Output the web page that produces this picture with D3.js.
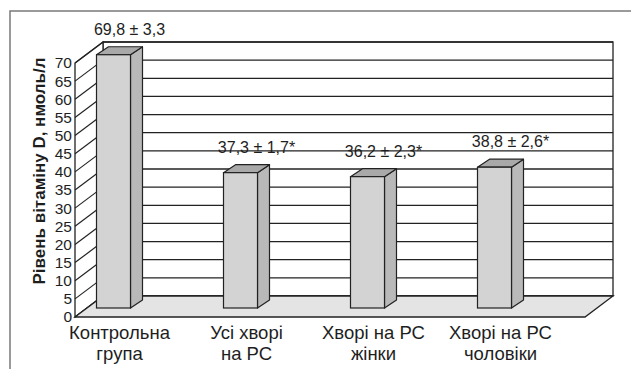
<!DOCTYPE html>
<html>
<head>
<meta charset="utf-8">
<script src="https://cdn.jsdelivr.net/npm/d3@7/dist/d3.min.js"></script>
<style>
  html, body { margin: 0; padding: 0; background: #fff; }
  svg { display: block; font-family: "Liberation Sans", Arial, sans-serif; }
</style>
</head>
<body>
<svg id="chart" width="631" height="369"></svg>
<script>
// ---- data ----
const categories = [
  ["Контрольна", "група"],
  ["Усі хворі", "на РС"],
  ["Хворі на РС", "жінки"],
  ["Хворі на РС", "чоловіки"]
];
const values = [69.8, 37.3, 36.2, 38.8];
const valueLabels = ["69,8 ± 3,3", "37,3 ± 1,7*", "36,2 ± 2,3*", "38,8 ± 2,6*"];
const yTicks = [0, 5, 10, 15, 20, 25, 30, 35, 40, 45, 50, 55, 60, 65, 70];
const yTitle = "Рівень вітаміну D, нмоль/л";

// ---- layout ----
const svg = d3.select("#chart");
const catKeys = categories.map(c => c.join(" "));
const y = d3.scaleLinear().domain([0, 70]).range([317, 63]);
const x = d3.scaleBand().domain(catKeys).range([56, 564]);
const frontLeft = 75, frontRight = 585;
const depth = { dx: 28, dy: -21 };       // wall depth
const barShift = { dx: 0, dy: -9 };      // bar front face offset from front plane (vertical)
const barDepth = { dx: 12, dy: -8 };
const barW = 34;
const lineCol = "#222";

// outer frame (open to right/bottom)
svg.append("rect").attr("x", 10).attr("y", 11).attr("width", 700).attr("height", 500)
  .attr("fill", "none").attr("stroke", "#7a7a7a").attr("stroke-width", 1.5);

// back wall
const bx0 = frontLeft + depth.dx, bx1 = frontRight + depth.dx;
svg.append("rect").attr("x", bx0).attr("y", y(70) + depth.dy)
  .attr("width", bx1 - bx0).attr("height", y(0) - y(70))
  .attr("fill", "#fff").attr("stroke", lineCol).attr("stroke-width", 1.3);

// back wall gridlines
svg.append("g").selectAll("line").data(yTicks).join("line")
  .attr("x1", bx0).attr("x2", bx1)
  .attr("y1", d => y(d) + depth.dy).attr("y2", d => y(d) + depth.dy)
  .attr("stroke", lineCol).attr("stroke-width", 1.3);

// left side wall
svg.append("polygon")
  .attr("points", [[frontLeft, y(0)], [frontLeft, y(70)], [bx0, y(70) + depth.dy], [bx0, y(0) + depth.dy]].map(p => p.join(",")).join(" "))
  .attr("fill", "#fff").attr("stroke", lineCol).attr("stroke-width", 1.3);
svg.append("g").selectAll("line").data(yTicks).join("line")
  .attr("x1", frontLeft).attr("x2", bx0)
  .attr("y1", d => y(d)).attr("y2", d => y(d) + depth.dy)
  .attr("stroke", lineCol).attr("stroke-width", 1.2);

// floor
svg.append("polygon")
  .attr("points", [[frontLeft, y(0)], [frontRight, y(0)], [bx1, y(0) + depth.dy], [bx0, y(0) + depth.dy]].map(p => p.join(",")).join(" "))
  .attr("fill", "#e4e4e4").attr("stroke", lineCol).attr("stroke-width", 1.3);

// bars
const bars = svg.append("g").selectAll("g").data(values.map((v, i) => ({ v, key: catKeys[i], label: valueLabels[i] }))).join("g");
bars.each(function (d, i) {
  const g = d3.select(this);
  const c = x(d.key) + x.bandwidth() / 2;
  const l = c - (barW + barDepth.dx) / 2;
  const r = l + barW;
  const top = y(d.v) + barShift.dy;
  const bot = y(0) + barShift.dy;
  // side
  g.append("polygon")
    .attr("points", [[r, bot], [r, top], [r + barDepth.dx, top + barDepth.dy], [r + barDepth.dx, bot + barDepth.dy]].map(p => p.join(",")).join(" "))
    .attr("fill", "#b9b9b9").attr("stroke", lineCol).attr("stroke-width", 1.2).attr("stroke-linejoin", "round");
  // top
  g.append("polygon")
    .attr("points", [[l, top], [r, top], [r + barDepth.dx, top + barDepth.dy], [l + barDepth.dx, top + barDepth.dy]].map(p => p.join(",")).join(" "))
    .attr("fill", "#a9a9a9").attr("stroke", lineCol).attr("stroke-width", 1.2).attr("stroke-linejoin", "round");
  // front
  g.append("rect").attr("x", l).attr("y", top).attr("width", barW).attr("height", bot - top)
    .attr("fill", "#d3d3d3").attr("stroke", lineCol).attr("stroke-width", 1.2);
  // value label
  g.append("text").attr("x", c + 10).attr("y", top + barDepth.dy - 12)
    .attr("text-anchor", "middle").attr("font-size", 16).attr("fill", "#1e1e1e").text(d.label);
});

// y axis tick labels
const axis = d3.axisLeft(y).tickValues(yTicks).tickSize(0).tickPadding(3).tickFormat(d3.format("d"));
const ax = svg.append("g").attr("transform", `translate(${frontLeft},0)`).call(axis);
ax.select(".domain").remove();
ax.selectAll("text").attr("font-size", 15.5).attr("fill", "#1e1e1e").attr("font-family", "Liberation Sans, Arial, sans-serif");

// y title
svg.append("text").attr("transform", "translate(45,171) rotate(-90)")
  .attr("text-anchor", "middle").attr("font-size", 17).attr("font-weight", "bold").attr("fill", "#1e1e1e")
  .text(yTitle);

// category labels
const cat = svg.append("g").selectAll("text").data(categories).join("text")
  .attr("x", (d, i) => x(catKeys[i]) + x.bandwidth() / 2)
  .attr("y", 339).attr("text-anchor", "middle").attr("font-size", 18.5).attr("fill", "#1e1e1e");
cat.append("tspan").attr("x", (d, i) => x(catKeys[i]) + x.bandwidth() / 2).text(d => d[0]);
cat.append("tspan").attr("x", (d, i) => x(catKeys[i]) + x.bandwidth() / 2).attr("dy", 21).text(d => d[1]);
</script>
</body>
</html>
